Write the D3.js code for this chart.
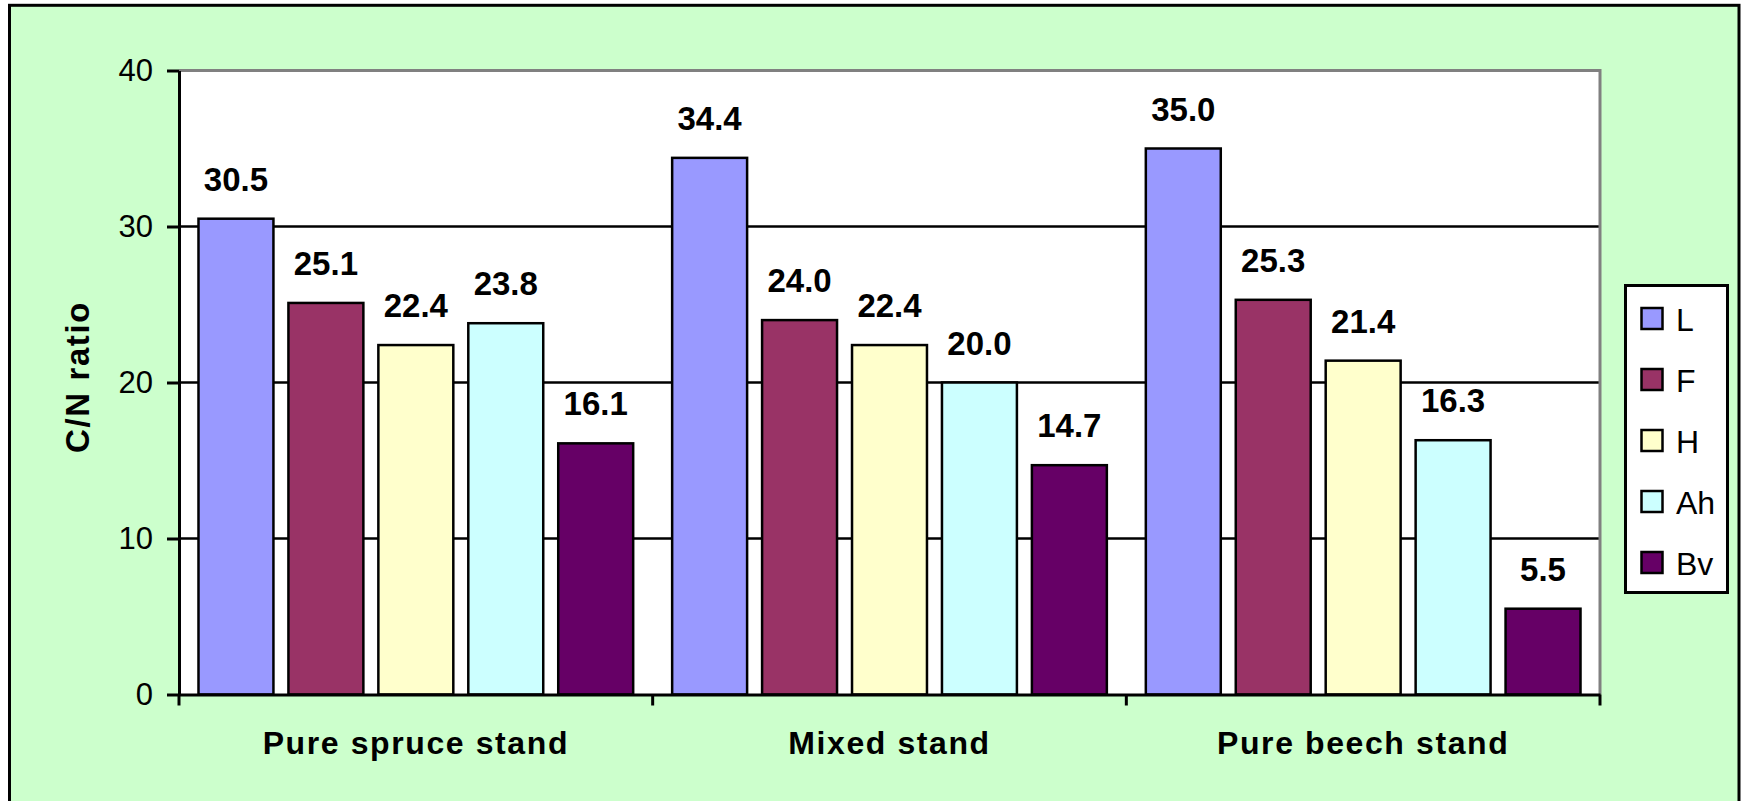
<!DOCTYPE html>
<html>
<head>
<meta charset="utf-8">
<script src="https://cdn.jsdelivr.net/npm/d3@7"></script>
<style>
  html, body { margin: 0; padding: 0; background: #ffffff; }
  svg { display: block; }
  text { font-family: "Liberation Sans", Arial, sans-serif; }
</style>
</head>
<body>
<svg id="chart" width="1742" height="801"></svg>
<script>
// Stands (groups) and soil horizons (series)
const categories = ["Pure spruce stand", "Mixed stand", "Pure beech stand"];
const horizons = ["L", "F", "H", "Ah", "Bv"];

// C/N ratio per horizon, one value per stand
const valuesL  = [30.5, 34.4, 35.0];
const valuesF  = [25.1, 24.0, 25.3];
const valuesH  = [22.4, 22.4, 21.4];
const valuesAh = [23.8, 20.0, 16.3];
const valuesBv = [16.1, 14.7, 5.5];

const yTicks = [0, 10, 20, 30, 40];
const yTitle = "C/N ratio";

const colors = ["#9999FF", "#993366", "#FFFFCC", "#CCFFFF", "#660066"];
const seriesValues = [valuesL, valuesF, valuesH, valuesAh, valuesBv];

const svg = d3.select("#chart");

// Chart background with frame
svg.append("rect")
  .attr("x", 9.5).attr("y", 5.3)
  .attr("width", 1729.5).attr("height", 810)
  .attr("fill", "#CCFFCC")
  .attr("stroke", "#000").attr("stroke-width", 3);

const plot = { left: 179, top: 70.5, right: 1600, bottom: 694.5 };

const x0 = d3.scaleBand()
  .domain(categories)
  .range([plot.left, plot.right])
  .padding(0);

const x1 = d3.scaleBand()
  .domain(horizons)
  .range([0, x0.bandwidth()])
  .paddingInner(1 / 6)
  .paddingOuter(0.2167);

const y = d3.scaleLinear()
  .domain([0, 40])
  .range([plot.bottom, plot.top]);

// Plot area
svg.append("rect")
  .attr("x", plot.left).attr("y", plot.top)
  .attr("width", plot.right - plot.left).attr("height", plot.bottom - plot.top)
  .attr("fill", "#ffffff");

// Horizontal gridlines
svg.append("g")
  .selectAll("line")
  .data(yTicks.filter(t => t > 0 && t < 40))
  .join("line")
  .attr("x1", plot.left).attr("x2", plot.right)
  .attr("y1", d => y(d)).attr("y2", d => y(d))
  .attr("stroke", "#000").attr("stroke-width", 2.5);

// Plot area border (top and right in grey)
svg.append("path")
  .attr("d", `M${plot.left},${plot.top}H${plot.right}V${plot.bottom}`)
  .attr("fill", "none")
  .attr("stroke", "#808080").attr("stroke-width", 3);

// Bars
const rows = [];
categories.forEach((c, ci) => {
  horizons.forEach((h, hi) => {
    rows.push({ cat: c, hor: h, value: seriesValues[hi][ci], color: colors[hi] });
  });
});

svg.append("g")
  .selectAll("rect")
  .data(rows)
  .join("rect")
  .attr("x", d => x0(d.cat) + x1(d.hor))
  .attr("y", d => y(d.value))
  .attr("width", x1.bandwidth())
  .attr("height", d => y(0) - y(d.value))
  .attr("fill", d => d.color)
  .attr("stroke", "#000").attr("stroke-width", 2.5);

// Value labels
svg.append("g")
  .selectAll("text")
  .data(rows)
  .join("text")
  .attr("x", d => x0(d.cat) + x1(d.hor) + x1.bandwidth() / 2)
  .attr("y", d => y(d.value) - 28)
  .attr("text-anchor", "middle")
  .attr("font-size", 33)
  .attr("font-weight", "bold")
  .attr("fill", "#000")
  .text(d => d.value.toFixed(1));

// Y axis
const yAxis = svg.append("g")
  .attr("transform", `translate(${plot.left},0)`)
  .call(d3.axisLeft(y).tickValues(yTicks).tickSize(12).tickPadding(14).tickSizeOuter(0));
yAxis.select(".domain").attr("stroke", "#000").attr("stroke-width", 3);
yAxis.selectAll(".tick line").attr("stroke", "#000").attr("stroke-width", 3);
yAxis.selectAll(".tick text")
  .attr("font-size", 31)
  .attr("fill", "#000")
  .style("font-family", "'Liberation Sans', Arial, sans-serif");

// X axis: category labels, ticks at group boundaries
const xAxis = svg.append("g")
  .attr("transform", `translate(0,${plot.bottom})`)
  .call(d3.axisBottom(x0).tickSize(0).tickPadding(37).tickSizeOuter(0));
xAxis.select(".domain").attr("stroke", "#000").attr("stroke-width", 3);
xAxis.selectAll(".tick text")
  .attr("font-size", 32)
  .attr("font-weight", "bold")
  .attr("letter-spacing", 1.6)
  .attr("fill", "#000")
  .style("font-family", "'Liberation Sans', Arial, sans-serif");

const boundaries = categories.map(c => x0(c)).concat([x0(categories[categories.length - 1]) + x0.bandwidth()]);
svg.append("g")
  .selectAll("line")
  .data(boundaries)
  .join("line")
  .attr("x1", d => d).attr("x2", d => d)
  .attr("y1", plot.bottom).attr("y2", plot.bottom + 11)
  .attr("stroke", "#000").attr("stroke-width", 3);

// Y axis title
svg.append("text")
  .attr("transform", `translate(89,${377}) rotate(-90)`)
  .attr("text-anchor", "middle")
  .attr("font-size", 33)
  .attr("font-weight", "bold")
  .attr("letter-spacing", 1.6)
  .attr("fill", "#000")
  .text(yTitle);

// Legend
const legend = svg.append("g");
legend.append("rect")
  .attr("x", 1625.5).attr("y", 285.5)
  .attr("width", 102).attr("height", 307)
  .attr("fill", "#ffffff")
  .attr("stroke", "#000").attr("stroke-width", 3);

const legendY = d3.scalePoint()
  .domain(horizons)
  .range([318.5, 562.5]);

const items = legend.selectAll("g.item")
  .data(horizons.map((h, i) => ({ h, color: colors[i] })))
  .join("g")
  .attr("class", "item");

items.append("rect")
  .attr("x", 1641.5)
  .attr("y", d => legendY(d.h) - 10.5)
  .attr("width", 21).attr("height", 21)
  .attr("fill", d => d.color)
  .attr("stroke", "#000").attr("stroke-width", 2.5);

items.append("text")
  .attr("x", 1676)
  .attr("y", d => legendY(d.h) + 12)
  .attr("font-size", 32)
  .attr("fill", "#000")
  .text(d => d.h);
</script>
</body>
</html>
